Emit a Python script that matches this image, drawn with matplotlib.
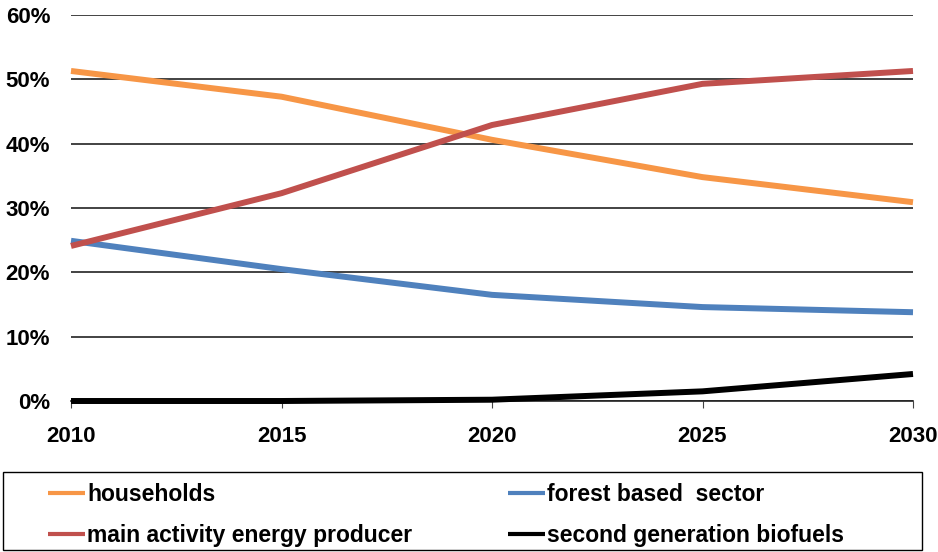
import matplotlib.pyplot as plt
from matplotlib.patches import Rectangle
from matplotlib.ticker import FuncFormatter

plt.rcParams['font.family'] = ['Liberation Sans', 'DejaVu Sans']
plt.rcParams['font.weight'] = 'bold'

years = [2010, 2015, 2020, 2025, 2030]
households = [51.3, 47.3, 40.6, 34.8, 30.9]
main_producer = [24.1, 32.3, 42.9, 49.3, 51.3]
forest_sector = [24.9, 20.5, 16.5, 14.6, 13.8]
biofuels = [0.0, 0.0, 0.2, 1.5, 4.2]

labels = ["households", "forest based  sector",
          "main activity energy producer", "second generation biofuels"]
colors = ["#f79646", "#4f81bd", "#c0504d", "#000000"]

fig = plt.figure(figsize=(9.38, 5.52), dpi=100)
ax = fig.add_axes([71/938, 1-401/552, (913-71)/938, (401-15)/552])

# gridlines first so the series sit on top
ax.set_yticks(range(0, 61, 10))
ax.grid(axis='y', color='#222222', linewidth=1.2)
ax.set_axisbelow(True)

series = [households, forest_sector, main_producer, biofuels]
lines = []
for vals, lab, c in zip(series, labels, colors):
    ln, = ax.plot(years, vals, color=c, linewidth=4.3, label=lab,
                  solid_capstyle='butt', clip_on=False, zorder=3)
    lines.append(ln)

ax.set_xlim(2010, 2030)
ax.set_ylim(0, 60)
ax.set_xticks(years)
ax.yaxis.set_major_formatter(FuncFormatter(lambda v, p: f"{int(v)}%"))

for s in ['top', 'right', 'left']:
    ax.spines[s].set_visible(False)
ax.spines['bottom'].set_color('#222222')
ax.spines['bottom'].set_linewidth(1.2)

ax.tick_params(axis='y', length=0, pad=15, labelsize=16)
ax.tick_params(axis='x', length=5, direction='out', color='#444444',
               pad=13, labelsize=16)

# legend: box drawn by hand, two columns placed separately
fig.add_artist(Rectangle((3/938, 1-550/552), 919/938, 78/552,
                         transform=fig.transFigure, fill=False,
                         edgecolor='black', linewidth=1.0))

cols = [([lines[0], lines[2]], [labels[0], labels[2]], 48/938),
        ([lines[1], lines[3]], [labels[1], labels[3]], 508/938)]
for hs, ls, x0 in cols:
    leg = fig.legend(hs, ls, loc='center left',
                     bbox_to_anchor=(x0, 1-515/552), frameon=False,
                     fontsize=16.5, handlelength=1.6, handletextpad=0.1,
                     borderpad=0, borderaxespad=0, labelspacing=0.75)
    for h in leg.get_lines():
        h.set_linewidth(3)

fig.savefig("out.png", dpi=100)
